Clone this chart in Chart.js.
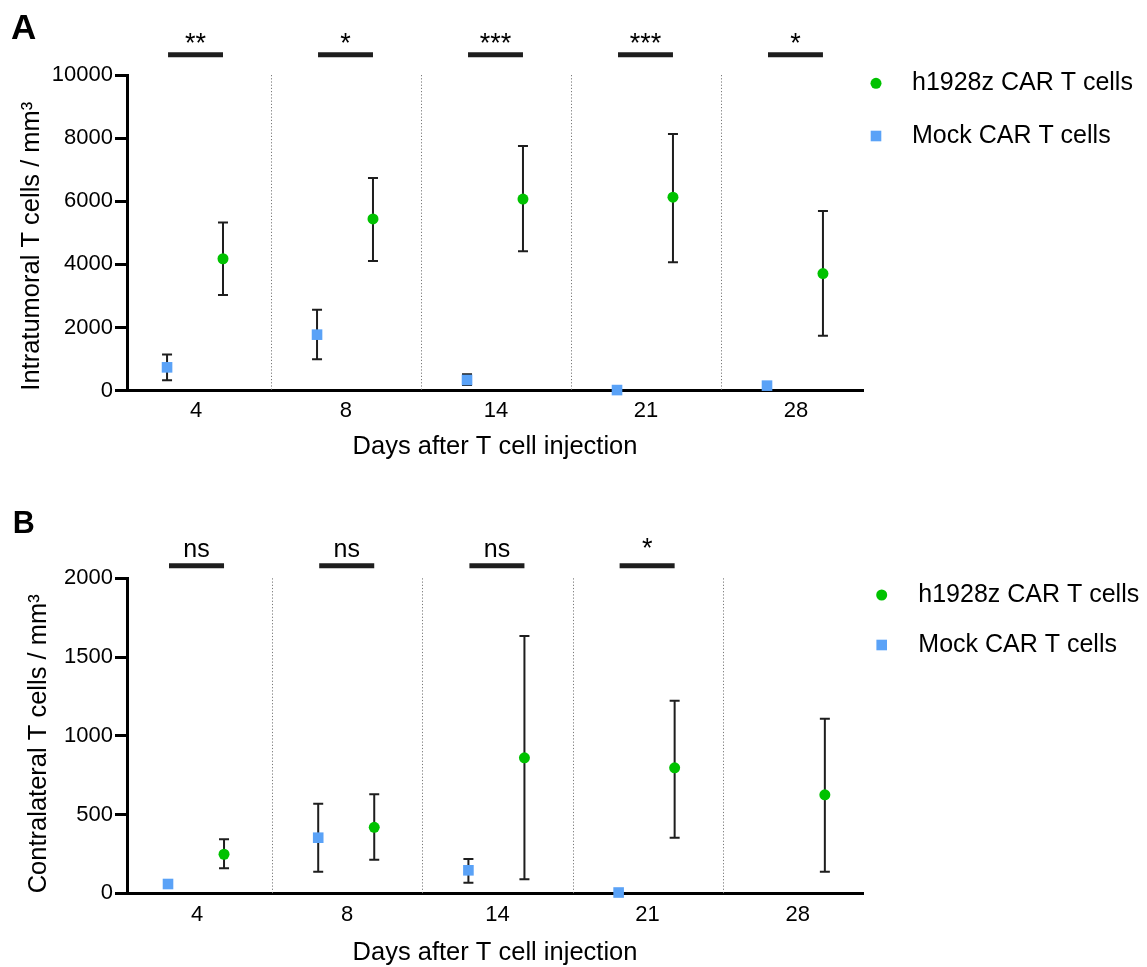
<!DOCTYPE html>
<html>
<head>
<meta charset="utf-8">
<script src="https://cdn.jsdelivr.net/npm/chart.js@4.4.1/dist/chart.umd.min.js"></script>
<style>
html,body{margin:0;padding:0;background:#fff;}
#wrap{position:relative;width:1147px;height:967px;overflow:hidden;background:#fff;}
canvas{position:absolute;left:0;}
</style>
</head>
<body>
<div id="wrap">
<canvas id="cA" width="1147" height="487" style="top:0;width:1147px;height:487px"></canvas>
<canvas id="cB" width="1147" height="480" style="top:487px;width:1147px;height:480px"></canvas>
</div>
<script>
// ---------------- data ----------------
const categories = ['4', '8', '14', '21', '28'];
const seriesNames = ['h1928z CAR T cells', 'Mock CAR T cells'];
const xTitle = 'Days after T cell injection';

// Panel A: intratumoral
const carA    = [4180, 5440, 6070, 6130, 3710];
const carA_hi = [5330, 6740, 7750, 8130, 5690];
const carA_lo = [3030, 4110, 4420, 4070, 1740];
const mockA    = [740, 1775, 340, 20, 160];
const mockA_hi = [1150, 2565, 520, null, null];
const mockA_lo = [330, 995, 180, null, null];
const sigA = ['**', '*', '***', '***', '*'];
const yTicksA = [0, 2000, 4000, 6000, 8000, 10000];

// Panel B: contralateral
const carB    = [248, 419, 860, 797, 625];
const carB_hi = [343, 629, 1634, 1222, 1108];
const carB_lo = [159, 213, 89, 353, 137];
const mockB    = [59, 353, 146, 5, null];
const mockB_hi = [null, 569, 218, null, null];
const mockB_lo = [null, 137, 67, null, null];
const sigB = ['ns', 'ns', 'ns', '*', ''];
const yTicksB = [0, 500, 1000, 1500, 2000];

// ---------------- style ----------------
Chart.defaults.font.family = "'Liberation Sans', Arial, Helvetica, sans-serif";
Chart.defaults.color = '#000';
const FONT = "'Liberation Sans', Arial, Helvetica, sans-serif";
const GREEN = '#00c200';
const BLUE = '#5aa2f7';
const INK = '#1e1e1e';
const GREEN_OFF = 0.18;
const MOCK_OFF = -0.193;

const panels = [
  {
    id: 'cA', letter: 'A', letterSize: 35, letterX: 11, letterY: 39.3,
    yTitle: 'Intratumoral T cells / mm³', yTicks: yTicksA,
    car: carA, carHi: carA_hi, carLo: carA_lo, mock: mockA, mockHi: mockA_hi, mockLo: mockA_lo, sig: sigA,
    H: 487, padTop: 75, chartBottom: 390.7, xMin: -0.46, xMax: 4.447,
    tickPad: 6.9, xTitleMid: 446.7, yTitlePad: 19.25,
    sigBarY: 54.7, sigTextY: 51.5,
    legX: 876, legTextX: 912, legY1: 83.3, legY2: 136
  },
  {
    id: 'cB', letter: 'B', letterSize: 30.5, letterX: 12.7, letterY: 46.3,
    yTitle: 'Contralateral T cells / mm³', yTicks: yTicksB,
    car: carB, carHi: carB_hi, carLo: carB_lo, mock: mockB, mockHi: mockB_hi, mockLo: mockB_lo, sig: sigB,
    H: 480, padTop: 91.3, chartBottom: 406.3, xMin: -0.466, xMax: 4.434,
    tickPad: 8.5, xTitleMid: 466.3, yTitlePad: 25.75,
    sigBarY: 78.7, sigTextY: 69.7,
    legX: 881.7, legTextX: 918.3, legY1: 108, legY2: 158
  }
];

const errorBars = {
  id: 'errorBars',
  beforeDatasetsDraw(chart) {
    const ctx = chart.ctx, ys = chart.scales.y, xs = chart.scales.x;
    ctx.save();
    ctx.strokeStyle = INK;
    ctx.lineWidth = 2;
    chart.data.datasets.forEach(ds => {
      ds.data.forEach(p => {
        if (p.hi == null || p.lo == null) return;
        const x = xs.getPixelForValue(p.x);
        const yh = ys.getPixelForValue(p.hi);
        const yl = ys.getPixelForValue(p.lo);
        ctx.beginPath();
        ctx.moveTo(x, yh); ctx.lineTo(x, yl);
        ctx.moveTo(x - 5, yh); ctx.lineTo(x + 5, yh);
        ctx.moveTo(x - 5, yl); ctx.lineTo(x + 5, yl);
        ctx.stroke();
      });
    });
    ctx.restore();
  }
};

const decor = {
  id: 'decor',
  beforeDatasetsDraw(chart) {
    const ctx = chart.ctx, xs = chart.scales.x, a = chart.chartArea;
    ctx.save();
    ctx.strokeStyle = '#7a7a7a';
    ctx.lineWidth = 1;
    ctx.setLineDash([1.2, 2]);
    for (let i = 0; i < categories.length - 1; i++) {
      const x = Math.round(xs.getPixelForValue(i + 0.5)) + 0.5;
      ctx.beginPath();
      ctx.moveTo(x, a.top);
      ctx.lineTo(x, a.bottom);
      ctx.stroke();
    }
    ctx.restore();
  },
  afterDraw(chart) {
    const p = chart.options.plugins.decor;
    const ctx = chart.ctx, xs = chart.scales.x;
    ctx.save();
    // significance bars
    ctx.strokeStyle = INK;
    ctx.fillStyle = '#000';
    ctx.lineWidth = 5;
    ctx.textAlign = 'center';
    ctx.textBaseline = 'alphabetic';
    p.sig.forEach((s, i) => {
      if (!s) return;
      const x1 = xs.getPixelForValue(i + MOCK_OFF) + 1;
      const x2 = xs.getPixelForValue(i + GREEN_OFF);
      ctx.beginPath();
      ctx.moveTo(x1, p.sigBarY);
      ctx.lineTo(x2, p.sigBarY);
      ctx.stroke();
      ctx.font = (s.indexOf('*') >= 0 ? '27px ' : '25px ') + FONT;
      ctx.fillText(s, (x1 + x2) / 2, p.sigTextY);
    });
    // legend
    ctx.textAlign = 'left';
    ctx.textBaseline = 'middle';
    ctx.font = '25px ' + FONT;
    ctx.fillStyle = GREEN;
    ctx.beginPath();
    ctx.arc(p.legX, p.legY1, 5.5, 0, Math.PI * 2);
    ctx.fill();
    ctx.fillStyle = BLUE;
    ctx.fillRect(p.legX - 5.3, p.legY2 - 5.3, 10.6, 10.6);
    ctx.fillStyle = '#000';
    ctx.fillText(seriesNames[0], p.legTextX, p.legY1);
    ctx.fillText(seriesNames[1], p.legTextX, p.legY2);
    // panel letter
    ctx.font = 'bold ' + p.letterSize + 'px ' + FONT;
    ctx.textBaseline = 'alphabetic';
    ctx.fillText(p.letter, p.letterX, p.letterY);
    ctx.restore();
  }
};

function build(P) {
  const carData = categories.map((c, i) => ({ x: i + GREEN_OFF, y: P.car[i], hi: P.carHi[i], lo: P.carLo[i] }));
  const mockData = categories.map((c, i) => P.mock[i] == null ? null :
      ({ x: i + MOCK_OFF, y: P.mock[i], hi: P.mockHi[i], lo: P.mockLo[i] })).filter(Boolean);
  const xH = P.xTitleMid + 12.75 - P.chartBottom;
  const padBottom = P.H - P.chartBottom - xH;
  new Chart(document.getElementById(P.id), {
    type: 'scatter',
    data: {
      datasets: [
        { label: seriesNames[0], data: carData, pointStyle: 'circle', pointRadius: 5.5, clip: false,
          backgroundColor: GREEN, borderColor: GREEN, pointBorderWidth: 0, showLine: false },
        { label: seriesNames[1], data: mockData, pointStyle: 'rect', pointRadius: 7.5, clip: false,
          backgroundColor: BLUE, borderColor: BLUE, pointBorderWidth: 0, showLine: false }
      ]
    },
    options: {
      responsive: false,
      animation: false,
      events: [],
      layout: { padding: { left: 0, right: 1147 - 863, top: P.padTop, bottom: padBottom } },
      plugins: {
        legend: { display: false },
        tooltip: { enabled: false },
        decor: P
      },
      scales: {
        x: {
          type: 'linear', position: 'bottom', min: P.xMin, max: P.xMax,
          afterBuildTicks: s => { s.ticks = categories.map((c, i) => ({ value: i })); },
          afterFit: s => { s.height = xH; },
          ticks: { callback: (v, i) => categories[i], font: { size: 22 }, padding: P.tickPad, color: '#000', maxRotation: 0, autoSkip: false },
          grid: { display: false, drawTicks: false },
          border: { display: true, color: '#000', width: 3 },
          title: { display: true, text: xTitle, font: { size: 25.5, lineHeight: 1 }, color: '#000', padding: { top: 0, bottom: 0 } }
        },
        y: {
          type: 'linear', position: 'left', min: P.yTicks[0], max: P.yTicks[P.yTicks.length - 1],
          afterBuildTicks: s => { s.ticks = P.yTicks.map(v => ({ value: v })); },
          afterFit: s => { s.width = 127; },
          ticks: { font: { size: 22 }, padding: 2, color: '#000', callback: v => String(v) },
          grid: { drawOnChartArea: false, drawTicks: true, tickLength: 12, lineWidth: 3, color: '#000' },
          border: { display: true, color: '#000', width: 3 },
          title: { display: true, text: P.yTitle, align: 'start', font: { size: 25.5, lineHeight: 1 }, color: '#000', padding: { top: P.yTitlePad, bottom: 0 } }
        }
      }
    },
    plugins: [errorBars, decor]
  });
}
panels.forEach(build);
</script>
</body>
</html>
